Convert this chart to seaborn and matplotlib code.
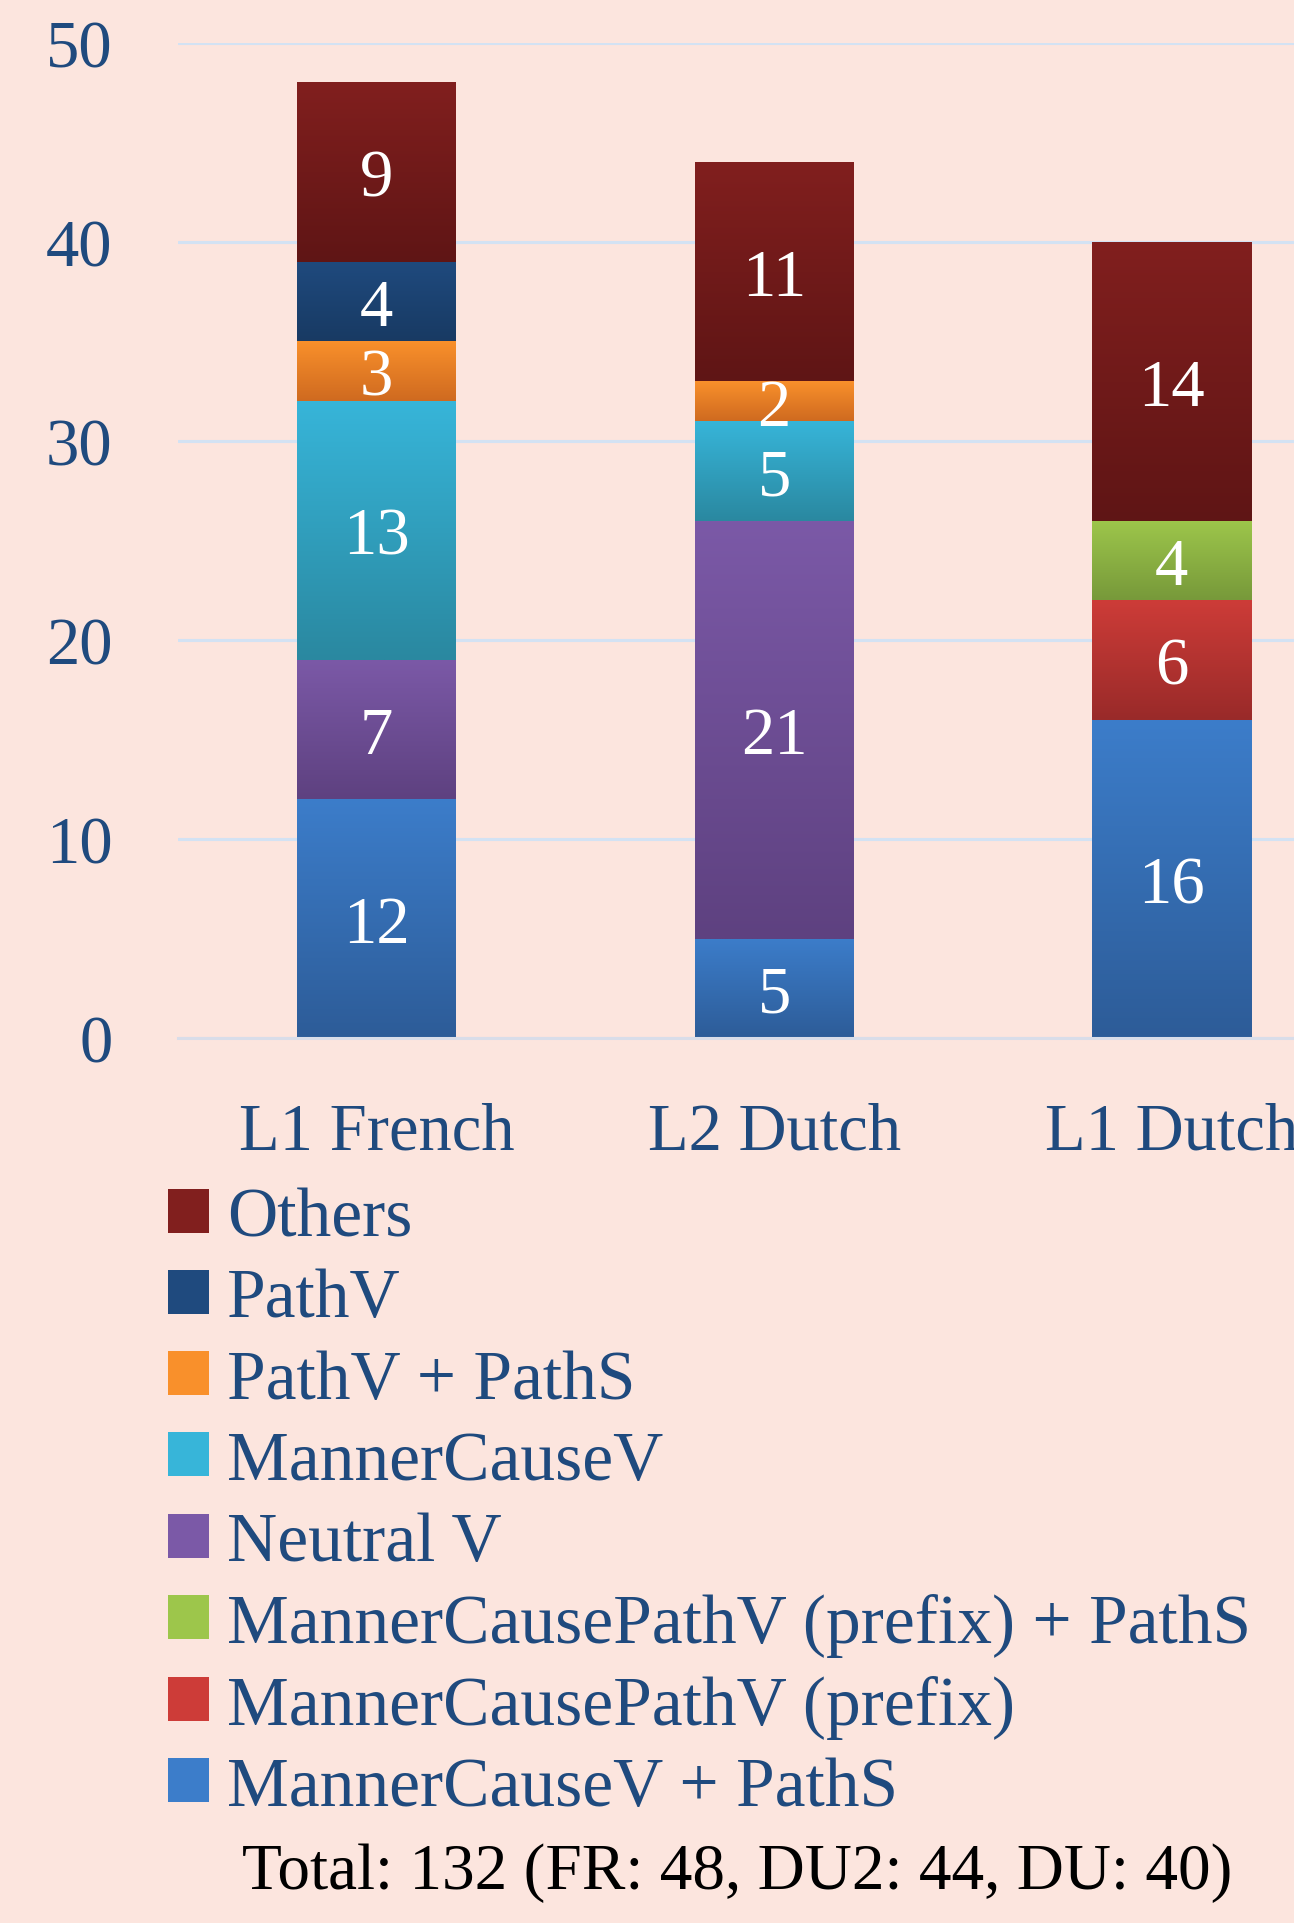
import numpy as np
import pandas as pd
import matplotlib
matplotlib.use("Agg")
import matplotlib.pyplot as plt
from matplotlib.colors import LinearSegmentedColormap
from matplotlib.patches import Patch
import seaborn as sns

# ---------------- data ----------------
categories = ["L1 French", "L2 Dutch", "L1 Dutch"]
# stacked from bottom to top
series_names = [
    "MannerCauseV + PathS",
    "MannerCausePathV (prefix)",
    "MannerCausePathV (prefix) + PathS",
    "Neutral V",
    "MannerCauseV",
    "PathV + PathS",
    "PathV",
    "Others",
]
manner_cause_v_paths = [12, 5, 16]
manner_cause_path_v_prefix = [0, 0, 6]
manner_cause_path_v_prefix_paths = [0, 0, 4]
neutral_v = [7, 21, 0]
manner_cause_v = [13, 5, 0]
path_v_paths = [3, 2, 0]
path_v = [4, 0, 0]
others = [9, 11, 14]
series_values = [
    manner_cause_v_paths,
    manner_cause_path_v_prefix,
    manner_cause_path_v_prefix_paths,
    neutral_v,
    manner_cause_v,
    path_v_paths,
    path_v,
    others,
]
y_ticks = [0, 10, 20, 30, 40, 50]
total_text = "Total: 132 (FR: 48, DU2: 44, DU: 40)"

# gradient colours (top, bottom) per series
top_colors = ["#3c7dca", "#cd3c38", "#9dc64b", "#7b59a7", "#37b5d9", "#f9902b", "#1f4a7e", "#811f1e"]
bottom_colors = ["#2d5c98", "#992a29", "#77993a", "#5e4180", "#2a88a0", "#cf6a20", "#183a63", "#5f1515"]

# ---------------- style ----------------
sns.set_theme(style="white")
plt.rcParams["font.family"] = ["Liberation Serif", "DejaVu Serif"]

BG = "#fce5de"
TXT = "#1f4a7e"
FS = 48

fig = plt.figure(figsize=(12.94, 19.24), dpi=100, facecolor=BG)
ax = fig.add_axes([178 / 1294, (1924 - 1039) / 1924, 1192.5 / 1294, 995 / 1924])
ax.set_facecolor("none")

bottom = np.zeros(len(categories))
for name, vals, ctop, cbot in zip(series_names, series_values, top_colors, bottom_colors):
    df = pd.DataFrame({"cat": categories, "val": vals})
    sns.barplot(data=df, x="cat", y="val", order=categories, color=cbot,
                width=0.4, errorbar=None, bottom=bottom.copy(), ax=ax,
                linewidth=0, saturation=1, zorder=2)
    cont = ax.containers[-1]
    labels = [str(v) if v > 0 else "" for v in vals]
    # gradient overlay on each bar
    cmap = LinearSegmentedColormap.from_list(name, [cbot, ctop])
    grad = np.linspace(0, 1, 256).reshape(-1, 1)
    for patch, v in zip(cont.patches, vals):
        if v <= 0:
            continue
        x0, y0 = patch.get_x(), patch.get_y()
        w, h = patch.get_width(), patch.get_height()
        ax.imshow(grad, extent=[x0, x0 + w, y0, y0 + h], origin="lower",
                  cmap=cmap, aspect="auto", zorder=2.5, interpolation="bilinear")
    ax.bar_label(cont, labels=labels, label_type="center", color="white",
                 fontsize=FS, padding=-5, zorder=4)
    bottom += np.array(vals)

ax.set_xlim(-0.5, 2.5)
ax.set_ylim(0, 50)
ax.set_yticks(y_ticks)
ax.set_yticklabels([str(t) for t in y_ticks])
ax.set_xlabel("")
ax.set_ylabel("")
ax.grid(axis="y", color="#d3e2f3", linewidth=2.2, zorder=0)
ax.grid(axis="x", visible=False)
ax.set_axisbelow(True)
for s in ["top", "right", "left"]:
    ax.spines[s].set_visible(False)
ax.spines["bottom"].set_color("#d9dde9")
ax.spines["bottom"].set_linewidth(2.2)
ax.tick_params(axis="y", length=0, pad=47, labelsize=FS, labelcolor=TXT)
ax.tick_params(axis="x", length=0, pad=46, labelsize=FS, labelcolor=TXT)
for t in ax.get_yticklabels():
    t.set_va("center_baseline")

# legend (top series first)
LFS = 50
handles = [Patch(facecolor=c, edgecolor="none") for c in top_colors][::-1]
leg = fig.legend(handles, series_names[::-1], loc="upper left",
                 bbox_to_anchor=(140 / 1294, 1 - 1160 / 1924),
                 frameon=False, fontsize=LFS, labelcolor=TXT,
                 handlelength=0.6, handleheight=0.6, handletextpad=0.25,
                 labelspacing=0.255, borderaxespad=0)

fig.text(737 / 1294, (1924 - 1873) / 1924, total_text, ha="center", va="center",
         fontsize=47, color="black")

fig.savefig("out.png", dpi=100, facecolor=BG)
